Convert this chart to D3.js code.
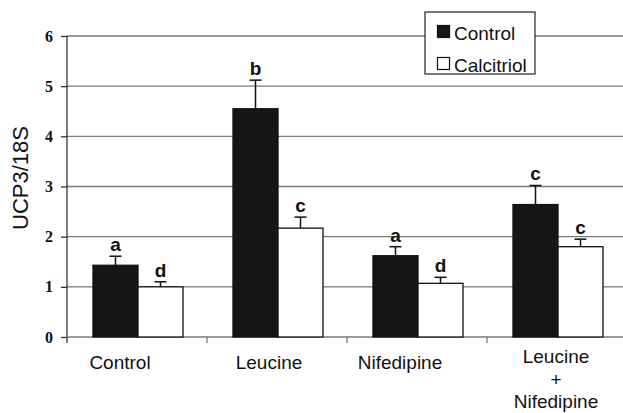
<!DOCTYPE html>
<html>
<head>
<meta charset="utf-8">
<script src="https://cdn.jsdelivr.net/npm/d3@7"></script>
<style>
  body { margin: 0; background: #fff; }
  svg { display: block; }
</style>
</head>
<body>
<div id="chart"></div>
<script>
const WIDTH = 623;
const HEIGHT = 413;
const SANS = "Liberation Sans, Arial, sans-serif";
const SERIF = "Liberation Serif, Times New Roman, serif";

// data
var categories = [["Control"], ["Leucine"], ["Nifedipine"], ["Leucine", "+", "Nifedipine"]];
var seriesNames = ["Control", "Calcitriol"];
var controlValues = [1.43, 4.55, 1.62, 2.64];
var controlErrors = [0.18, 0.57, 0.18, 0.38];
var calcitriolValues = [1.0, 2.17, 1.07, 1.80];
var calcitriolErrors = [0.10, 0.22, 0.12, 0.15];
var controlLetters = ["a", "b", "a", "c"];
var calcitriolLetters = ["d", "c", "d", "c"];
var yTicks = [0, 1, 2, 3, 4, 5, 6];

// the original places its category labels a little left of the band centres
var labelShift = [-17, -8, -17, -1];
var fills = ["#161616", "#ffffff"];

var translate = function(x, y){
	return "translate(" + x + "," + y + ")";
};

var svg = d3.select("#chart").append("svg")
	.attr("width", WIDTH)
	.attr("height", HEIGHT);

var x0 = d3.scaleBand()
	.domain(d3.range(categories.length))
	.range([67, 627])
	.paddingInner(0)
	.paddingOuter(0);

var x1 = d3.scaleBand()
	.domain(seriesNames)
	.range([26, x0.bandwidth() - 24]);

var y = d3.scaleLinear()
	.domain([0, 6])
	.range([337, 36]);

// gridlines
svg.append("g")
	.selectAll("line")
	.data(yTicks.filter(function(d){ return d > 0; }))
	.enter().append("line")
	.attr("x1", 67)
	.attr("x2", WIDTH)
	.attr("y1", function(d){ return y(d); })
	.attr("y2", function(d){ return y(d); })
	.attr("stroke", "#7a7a7a")
	.attr("stroke-width", 1.3);

// y axis
var yAxis = d3.axisLeft(y).tickValues(yTicks).tickSize(6).tickPadding(8).tickFormat(d3.format("d"));
var yg = svg.append("g")
	.attr("transform", translate(67, 0))
	.call(yAxis);
yg.select(".domain").attr("stroke", "#333").attr("stroke-width", 1.3).attr("d", "M0,36V343");
yg.selectAll(".tick line").attr("stroke", "#333").attr("stroke-width", 1.3);
yg.selectAll(".tick text")
	.attr("fill", "#111")
	.attr("font-family", SERIF)
	.attr("font-weight", "bold")
	.attr("font-size", 16);

// x axis
var xg = svg.append("g").attr("transform", translate(0, y(0)));
xg.append("line")
	.attr("x1", 67).attr("x2", WIDTH)
	.attr("stroke", "#7a7a7a").attr("stroke-width", 1.3);
xg.selectAll(".xt")
	.data(d3.range(1, categories.length))
	.enter().append("line")
	.attr("x1", function(i){ return x0(i); })
	.attr("x2", function(i){ return x0(i); })
	.attr("y1", 0).attr("y2", 6)
	.attr("stroke", "#555").attr("stroke-width", 1);

// bars
var series = [
	{ name: seriesNames[0], values: controlValues, errors: controlErrors, letters: controlLetters, fill: fills[0] },
	{ name: seriesNames[1], values: calcitriolValues, errors: calcitriolErrors, letters: calcitriolLetters, fill: fills[1] }
];

series.forEach(function(s){
	var g = svg.append("g");
	var bw = x1.bandwidth();
	var cx = function(i){ return x0(i) + x1(s.name) + bw / 2; };

	g.selectAll("rect")
		.data(s.values)
		.enter().append("rect")
		.attr("x", function(d, i){ return x0(i) + x1(s.name); })
		.attr("y", function(d){ return y(d); })
		.attr("width", bw)
		.attr("height", function(d){ return y(0) - y(d); })
		.attr("fill", s.fill)
		.attr("stroke", "#111")
		.attr("stroke-width", 1.3);

	g.selectAll(".err")
		.data(s.values)
		.enter().append("line")
		.attr("x1", function(d, i){ return cx(i); })
		.attr("x2", function(d, i){ return cx(i); })
		.attr("y1", function(d){ return y(d); })
		.attr("y2", function(d, i){ return y(d + s.errors[i]); })
		.attr("stroke", "#111").attr("stroke-width", 1.5);

	g.selectAll(".cap")
		.data(s.values)
		.enter().append("line")
		.attr("x1", function(d, i){ return cx(i) - 6; })
		.attr("x2", function(d, i){ return cx(i) + 6; })
		.attr("y1", function(d, i){ return y(d + s.errors[i]); })
		.attr("y2", function(d, i){ return y(d + s.errors[i]); })
		.attr("stroke", "#111").attr("stroke-width", 1.5);

	g.selectAll("text")
		.data(s.values)
		.enter().append("text")
		.attr("x", function(d, i){ return cx(i); })
		.attr("y", function(d, i){ return y(d + s.errors[i]) - 5; })
		.attr("text-anchor", "middle")
		.attr("font-family", SANS)
		.attr("font-weight", "bold")
		.attr("font-size", 19)
		.attr("fill", "#111")
		.text(function(d, i){ return s.letters[i]; });
});

// category labels
categories.forEach(function(lines, i){
	var cx = x0(i) + x0.bandwidth() / 2 + labelShift[i];
	var base = lines.length > 1 ? 363 : 369;
	lines.forEach(function(t, k){
		svg.append("text")
			.attr("x", cx)
			.attr("y", base + k * 22.5)
			.attr("text-anchor", "middle")
			.attr("font-family", SANS)
			.attr("font-size", 19)
			.attr("fill", "#111")
			.text(t);
	});
});

// y label
svg.append("text")
	.attr("transform", translate(28, 178) + " rotate(-90)")
	.attr("text-anchor", "middle")
	.attr("font-family", SANS)
	.attr("font-size", 22)
	.attr("fill", "#111")
	.text("UCP3/18S");

// legend
var legend = svg.append("g").attr("transform", translate(425, 12));
legend.append("rect")
	.attr("width", 110).attr("height", 62)
	.attr("fill", "#fff").attr("stroke", "#222").attr("stroke-width", 1.2);
series.forEach(function(s, i){
	legend.append("rect")
		.attr("x", 12.5).attr("y", 13.5 + i * 32)
		.attr("width", 12).attr("height", 12)
		.attr("fill", s.fill).attr("stroke", "#111").attr("stroke-width", 1.2);
	legend.append("text")
		.attr("x", 29).attr("y", 21 + i * 32)
		.attr("dy", "0.35em")
		.attr("font-family", SANS)
		.attr("font-size", 19)
		.attr("fill", "#111")
		.text(s.name);
});
</script>
</body>
</html>
